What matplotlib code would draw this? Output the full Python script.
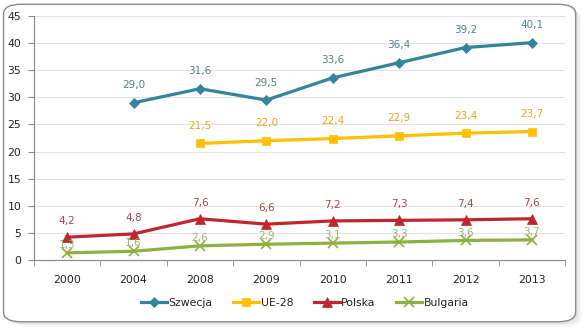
import numpy as np
import matplotlib
matplotlib.use("Agg")
import matplotlib.pyplot as plt
from matplotlib.patches import FancyBboxPatch

years = ["2000", "2004", "2008", "2009", "2010", "2011", "2012", "2013"]
szwecja = [None, 29.0, 31.6, 29.5, 33.6, 36.4, 39.2, 40.1]
ue28 = [None, None, 21.5, 22.0, 22.4, 22.9, 23.4, 23.7]
polska = [4.2, 4.8, 7.6, 6.6, 7.2, 7.3, 7.4, 7.6]
bulgaria = [1.3, 1.6, 2.6, 2.9, 3.1, 3.3, 3.6, 3.7]

plt.rcParams["font.family"] = ["DejaVu Sans"]

fig = plt.figure(figsize=(5.85, 3.29), dpi=100)

# rounded frame with soft shadow
for off, a in [(0.010, 0.10), (0.007, 0.15), (0.004, 0.2)]:
    fig.patches.append(FancyBboxPatch((0.006 + off, 0.022 - off * 1.5), 0.978, 0.965,
                                      boxstyle="round,pad=0,rounding_size=0.03",
                                      transform=fig.transFigure, fc="#bbbbbb", ec="none",
                                      alpha=a, zorder=-3))
fig.patches.append(FancyBboxPatch((0.006, 0.022), 0.978, 0.965,
                                  boxstyle="round,pad=0,rounding_size=0.03",
                                  transform=fig.transFigure, fc="white", ec="#8a8a8a",
                                  lw=1.0, zorder=-2))

ax = fig.add_axes([0.058, 0.21, 0.908, 0.741])
ax.set_facecolor("none")
x = np.arange(len(years))

series = [
    ("Szwecja", szwecja, "#31859C", "D", "#5b7f8c", 9, 5),
    ("UE-28", ue28, "#FFC000", "s", "#E6A817", 9, 6),
    ("Polska", polska, "#C0272D", "^", "#A3474A", 8, 6.5),
    ("Bulgaria", bulgaria, "#8DB041", "x", "#9BB36A", 2, 7),
]

for name, vals, col, mk, lcol, dy, ms in series:
    xs = [i for i, v in enumerate(vals) if v is not None]
    ys = [v for v in vals if v is not None]
    ax.plot(xs, ys, color=col, lw=2.3, marker=mk, ms=ms, mew=1.2 if mk == "x" else 0.5,
            mec=col, mfc=col, label=name, zorder=3)
    for xi, yi in zip(xs, ys):
        ax.annotate(f"{yi:.1f}".replace(".", ","), (xi, yi), xytext=(0, dy),
                    textcoords="offset points", ha="center", va="bottom",
                    fontsize=7.5, color=lcol, zorder=4)

ax.set_xlim(-0.5, len(years) - 0.5)
ax.set_ylim(0, 45)
ax.set_yticks(range(0, 46, 5))
ax.set_xticks(x)
ax.set_xticklabels(years)
ax.set_xticks(np.arange(-0.5, len(years), 1), minor=True)
ax.tick_params(axis="x", which="major", length=0, pad=11, labelsize=7.8, colors="#222222")
ax.tick_params(axis="x", which="minor", length=4, direction="out", color="#888888")
ax.tick_params(axis="y", length=4, direction="out", color="#888888", labelsize=7.8,
               labelcolor="#222222", pad=5)
ax.grid(axis="y", color="#e3e3e3", lw=0.8)
ax.set_axisbelow(True)
for s in ["top", "right"]:
    ax.spines[s].set_visible(False)
ax.spines["left"].set_color("#888888")
ax.spines["bottom"].set_color("#888888")

leg = ax.legend(loc="upper center", bbox_to_anchor=(0.51, -0.115), ncol=4, frameon=False,
                fontsize=7.8, handlelength=2.4, handletextpad=0.15, columnspacing=1.9)
for t in leg.get_texts():
    t.set_color("#222222")

fig.savefig("out.png", dpi=100)
